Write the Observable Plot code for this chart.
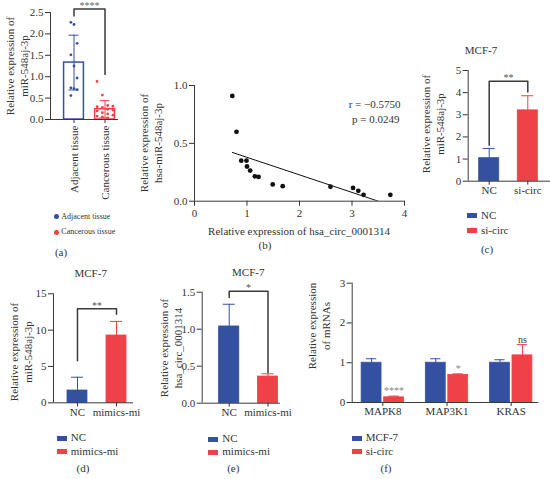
<!DOCTYPE html>
<html><head><meta charset="utf-8">
<script src="https://cdn.jsdelivr.net/npm/d3@7"></script>
<script src="https://cdn.jsdelivr.net/npm/@observablehq/plot@0.6"></script>
<style>
html,body{margin:0;padding:0;background:#fff;}
#fig{position:relative;width:550px;height:479px;overflow:hidden;background:#fff;font-family:"Liberation Serif","Times New Roman",serif;color:#333;}
.p{position:absolute;}
.t{position:absolute;white-space:pre;text-align:center;transform:translate(-50%,-50%);}
.sw{position:absolute;}
</style></head><body><div id="fig"></div>
<script>
// ---------------- DATA ----------------
const tissueGroups = ["Adjacent tissue", "Cancerous tissue"];
const adjacentValues = [2.27, 2.22, 1.78, 1.51, 1.25, 0.97, 0.74, 0.72, 0.70, 0.56];
const cancerousValues = [0.89, 0.57, 0.33, 0.31, 0.30, 0.28, 0.24, 0.22, 0.20, 0.16, 0.13, 0.10, 0.08, 0.06, 0.04];
const tissueMean = [1.33, 0.24];
const tissueSD = [0.64, 0.20];
const tissueBracket = [2.42, 2.58, 1.05];
const tissueSig = "****";
const tissueTicks = [0, 0.5, 1, 1.5, 2, 2.5];

const circExpr = [0.72, 0.80, 0.89, 0.99, 1.00, 1.06, 1.15, 1.22, 1.49, 1.68, 2.59, 3.02, 3.12, 3.22, 3.73];
const mirExpr  = [0.91, 0.60, 0.35, 0.35, 0.30, 0.265, 0.215, 0.21, 0.145, 0.13, 0.125, 0.115, 0.09, 0.055, 0.055];
const corrText = ["r = \u22120.5750", "p = 0.0249"];
const corrXTicks = [0, 1, 2, 3, 4];
const corrYTicks = [0, 0.5, 1];

const siGroups = ["NC", "si-circ"];
const siMean = [1.04, 3.20];
const siSD = [0.44, 0.66];
const siBracket = [1.62, 4.51, 4.03];
const siSig = "**";
const siTicks = [0, 1, 2, 3, 4, 5];

const mimicsGroups = ["NC", "mimics-mi"];
const mimicsMirMean = [1.69, 9.26];
const mimicsMirSD = [1.83, 1.94];
const mimicsMirBracket = [5.8, 12.93, 12.2];
const mimicsMirSig = "**";
const mimicsMirTicks = [0, 5, 10, 15];

const mimicsCircMean = [1.037, 0.36];
const mimicsCircSD = [0.30, 0.037];
const mimicsCircBracket = [1.43, 1.513, 0.41];
const mimicsCircSig = "*";
const mimicsCircTicks = [0, 0.5, 1, 1.5];

const genes = ["MAPK8", "MAP3K1", "KRAS"];
const geneSeries = ["MCF-7", "si-circ"];
const mcf7Mean = [1.0, 1.0, 1.0];
const mcf7SD = [0.10, 0.10, 0.075];
const siCircMean = [0.13, 0.695, 1.185];
const siCircSD = [0.03, 0.025, 0.27];
const geneSig = ["****", "*", "ns"];
const geneTicks = [0, 1, 2, 3];

// ---------------- STYLE ----------------
const BLUE = "#3451a1", RED = "#ef4148", AX = "#3a3a3a";
const FONT = '"Liberation Serif","Times New Roman",serif';
const baseStyle = {fontFamily: FONT, fontSize: "11px", color: "#333", background: "transparent", overflow: "visible"};
const fig = document.getElementById("fig");

function place(svg, left, top) {
  const w = document.createElement("div");
  w.className = "p"; w.style.left = left + "px"; w.style.top = top + "px";
  w.appendChild(svg); fig.appendChild(w);
}
function txt(s, x, y, o = {}) {
  const d = document.createElement("div");
  d.className = "t"; d.textContent = s;
  d.style.left = x + "px"; d.style.top = y + "px";
  d.style.fontSize = (o.size || 11) + "px";
  d.style.lineHeight = (o.lh || 13.5) + "px";
  d.style.color = o.color || "#333";
  if (o.align === "start") d.style.transform = "translate(0,-50%)";
  if (o.rotate) d.style.transform = "translate(-50%,-50%) rotate(-90deg)";
  fig.appendChild(d);
}
function legend(labels, colors, x, ys, o = {}) {
  labels.forEach((lab, k) => {
    const s = document.createElement("div");
    s.className = "sw";
    if (o.dot) {
      s.style.left = (x - 2.3) + "px"; s.style.top = (ys[k] - 2.3) + "px";
      s.style.width = "4.6px"; s.style.height = "4.6px"; s.style.borderRadius = "50%";
    } else {
      s.style.left = x + "px"; s.style.top = (ys[k] - 2.5) + "px";
      s.style.width = "10px"; s.style.height = "5px";
    }
    s.style.background = colors[k];
    fig.appendChild(s);
    txt(lab, x + (o.dot ? 5 : 14), ys[k], {align: "start", size: o.size || 11});
  });
}
const bracketPts = b => [[0, b[0]], [0, b[1]], [1, b[1]], [1, b[2]]];

// ---------------- (a) ----------------
{
  const pts = [
    ...adjacentValues.map((v, i) => ({g: 0, v, i})),
    ...cancerousValues.map((v, i) => ({g: 1, v, i}))
  ];
  const rows = tissueGroups.map((n, i) => ({i, mean: tissueMean[i], sd: tissueSD[i], color: [BLUE, RED][i]}));
  const hw = 0.32, cap = 0.16;
  const svg = Plot.plot({
    width: 125, height: 200, marginLeft: 50, marginRight: 7, marginTop: 12, marginBottom: 81,
    x: {type: "linear", domain: [-0.758, 1.435]}, y: {domain: [0, 2.5]}, color: {type: "identity"},
    style: baseStyle,
    marks: [
      Plot.rect(rows, {x1: d => d.i - hw, x2: d => d.i + hw, y1: 0, y2: "mean", fill: "white", stroke: "color", strokeWidth: 1.5}),
      Plot.ruleX(rows, {x: "i", y1: d => d.mean - d.sd, y2: d => d.mean + d.sd, stroke: "color"}),
      Plot.ruleY(rows, {y: d => d.mean + d.sd, x1: d => d.i - cap, x2: d => d.i + cap, stroke: "color"}),
      Plot.ruleY(rows, {y: d => d.mean - d.sd, x1: d => d.i - cap, x2: d => d.i + cap, stroke: "color"}),
      Plot.dot(pts, {x: d => d.g + (d.g === 0 ? ((d.i % 3) - 1) * 0.1 : ((d.i % 4) - 1.5) * 0.17), y: "v", r: 1.4,
        fill: d => d.g === 0 ? BLUE : RED, stroke: "none"}),
      Plot.ruleX([-0.758], {stroke: AX}),
      Plot.ruleY([0], {stroke: AX}),
      Plot.axisY(tissueTicks, {tickFormat: d3.format(".1f"), tickSize: 5, tickPadding: 2, label: null}),
      Plot.axisX([0, 1], {tickFormat: i => tissueGroups[i], tickRotate: -90, tickSize: 4, tickPadding: 2, label: null}),
      Plot.line(bracketPts(tissueBracket), {stroke: AX}),
      Plot.text([tissueSig], {x: () => 0.5, y: () => tissueBracket[1], text: d => d, fontSize: 10, fill: "#666", dy: -3.5})
    ]
  });
  place(svg, 0, 0);
  txt("Relative expression of\nmiR-548aj-3p", 17, 66, {rotate: true});
  legend(["Adjacent tissue", "Cancerous tissue"], [BLUE, RED], 56.3, [216.7, 232.3], {dot: true, size: 8});
  txt("(a)", 61, 252.5);
}

// ---------------- (b) ----------------
{
  const pts = circExpr.map((x, i) => ({x, y: mirExpr[i]}));
  const svg = Plot.plot({
    width: 260, height: 150, marginLeft: 44, marginRight: 6, marginTop: 15, marginBottom: 19.3,
    x: {domain: [0, 4]}, y: {domain: [0, 1]},
    style: baseStyle,
    marks: [
      Plot.linearRegressionY(pts, {x: "x", y: "y", stroke: "#111", strokeWidth: 1, ci: 0, clip: true}),
      Plot.dot(pts, {x: "x", y: "y", r: 2.4, fill: "#111", stroke: "none"}),
      Plot.ruleX([0], {stroke: AX}),
      Plot.ruleY([0], {stroke: AX}),
      Plot.axisY(corrYTicks, {tickFormat: d3.format(".1f"), tickSize: 5, tickPadding: 2, label: null}),
      Plot.axisX(corrXTicks, {tickSize: 5, tickPadding: 3, label: null}),
      Plot.text([corrText[0]], {frameAnchor: "top-right", text: d => d, dx: -4, dy: 14.3, textAnchor: "end"}),
      Plot.text([corrText[1]], {frameAnchor: "top-right", text: d => d, dx: -5, dy: 30, textAnchor: "end"})
    ]
  });
  place(svg, 150, 70);
  txt("Relative expression of\nhsa-miR-548aj-3p", 151, 143, {rotate: true});
  txt("Relative expression of hsa_circ_0001314", 299, 231.5);
  txt("(b)", 265, 245.5);
}

// ---------------- generic bar panel ----------------
function barPanel(o) {
  const rows = o.names.map((n, i) => ({i, mean: o.mean[i], sd: o.sd[i], color: [BLUE, RED][i]}));
  const hw = o.hw, cap = o.cap;
  return Plot.plot({
    width: o.w, height: o.h, marginLeft: o.mL, marginRight: o.mR, marginTop: o.mT, marginBottom: o.mB,
    x: {type: "linear", domain: o.xDom}, y: {domain: o.yDom}, color: {type: "identity"},
    style: baseStyle,
    marks: [
      Plot.ruleX(rows, {x: "i", y1: "mean", y2: d => d.mean + d.sd, stroke: "color"}),
      Plot.ruleY(rows, {y: d => d.mean + d.sd, x1: d => d.i - cap, x2: d => d.i + cap, stroke: "color"}),
      Plot.rect(rows, {x1: d => d.i - hw, x2: d => d.i + hw, y1: 0, y2: "mean", fill: "color", stroke: "color", strokeWidth: 0.8}),
      Plot.ruleX([o.xDom[0]], {stroke: AX}),
      Plot.ruleY([0], {stroke: AX}),
      Plot.axisY(o.yTicks, {tickFormat: o.yFmt, tickSize: 5, tickPadding: 2, label: null}),
      Plot.axisX([0, 1], {tickFormat: i => o.names[i], tickSize: 4, tickPadding: 1, label: null}),
      Plot.line(bracketPts(o.bracket), {stroke: AX}),
      Plot.text([o.sig], {x: () => 0.5, y: () => o.bracket[1], text: d => d, fontSize: 10, fill: "#555", dy: -3.5})
    ]
  });
}

// ---------------- (c) ----------------
place(barPanel({w: 130, h: 140, mL: 47.7, mR: 0, mT: 10, mB: 19.3, xDom: [-0.544, 1.588], yDom: [0, 5],
  hw: 0.26, cap: 0.155, names: siGroups, mean: siMean, sd: siSD, yTicks: siTicks, yFmt: d3.format("d"),
  bracket: siBracket, sig: siSig}), 420, 60);
txt("MCF-7", 481, 51);
txt("Relative expression of\nmiR-548aj-3p", 433, 123.5, {rotate: true});
legend(siGroups, [BLUE, RED], 467, [215.7, 230.7]);
txt("(c)", 487, 250);

// ---------------- (d) ----------------
place(barPanel({w: 140, h: 140, mL: 53, mR: 7, mT: 13.3, mB: 17.7, xDom: [-0.615, 1.436], yDom: [0, 15],
  hw: 0.256, cap: 0.154, names: mimicsGroups, mean: mimicsMirMean, sd: mimicsMirSD, yTicks: mimicsMirTicks,
  yFmt: d3.format("d"), bracket: mimicsMirBracket, sig: mimicsMirSig}), 0, 280);
txt("MCF-7", 90.7, 274.3);
txt("Relative expression of\nmiR-548aj-3p", 21, 352, {rotate: true});
legend(mimicsGroups, [BLUE, RED], 56.7, [438, 451.7]);
txt("(d)", 83, 469);

// ---------------- (e) ----------------
place(barPanel({w: 140, h: 140, mL: 51.7, mR: 10, mT: 11.7, mB: 17.3, xDom: [-0.696, 1.322], yDom: [0, 1.5],
  hw: 0.26, cap: 0.155, names: mimicsGroups, mean: mimicsCircMean, sd: mimicsCircSD, yTicks: mimicsCircTicks,
  yFmt: d3.format(".1f"), bracket: mimicsCircBracket, sig: mimicsCircSig}), 150, 280);
txt("MCF-7", 248.3, 273.3);
txt("Relative expression of\nhsa_circ_0001314", 170.5, 348, {rotate: true});
legend(mimicsGroups, [BLUE, RED], 208.3, [439.3, 452.3]);
txt("(e)", 233.3, 469);

// ---------------- (f) ----------------
{
  const rows = [];
  genes.forEach((g, i) => {
    rows.push({i, s: 0, c: i - 0.175, mean: mcf7Mean[i], sd: mcf7SD[i], color: BLUE, sig: ""});
    rows.push({i, s: 1, c: i + 0.175, mean: siCircMean[i], sd: siCircSD[i], color: RED, sig: geneSig[i]});
  });
  const hw = 0.155, cap = 0.08;
  const svg = Plot.plot({
    width: 250, height: 150, marginLeft: 51.7, marginRight: 11.7, marginTop: 12.7, marginBottom: 18,
    x: {type: "linear", domain: [-0.477, 2.43]}, y: {domain: [0, 3]}, color: {type: "identity"},
    style: baseStyle,
    marks: [
      Plot.ruleX(rows, {x: "c", y1: "mean", y2: d => d.mean + d.sd, stroke: "color"}),
      Plot.ruleY(rows, {y: d => d.mean + d.sd, x1: d => d.c - cap, x2: d => d.c + cap, stroke: "color"}),
      Plot.rect(rows, {x1: d => d.c - hw, x2: d => d.c + hw, y1: 0, y2: "mean", fill: "color", stroke: "color", strokeWidth: 0.8}),
      Plot.ruleX([-0.477], {stroke: AX}),
      Plot.ruleY([0], {stroke: AX}),
      Plot.axisY(geneTicks, {tickFormat: d3.format("d"), tickSize: 5, tickPadding: 2, label: null}),
      Plot.axisX([0, 1, 2], {tickFormat: i => genes[i], tickSize: 4, tickPadding: 1, label: null}),
      Plot.text(rows.filter(d => d.sig), {x: "c", y: d => d.mean + d.sd, text: "sig", fontSize: 10,
        fill: d => d.sig === "ns" ? "#333" : "#888", dy: -5})
    ]
  });
  place(svg, 300, 270);
  txt("Relative expression\nof mRNAs", 318.5, 326, {rotate: true});
  legend(geneSeries, [BLUE, RED], 351.7, [438.3, 451.7]);
  txt("(f)", 386, 469.3);
}
</script></body></html>
